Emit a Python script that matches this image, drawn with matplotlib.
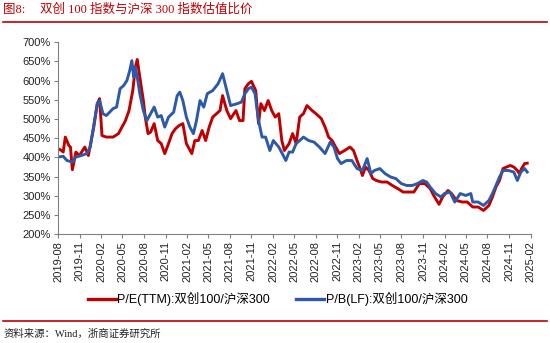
import matplotlib
matplotlib.use("Agg")
import matplotlib.pyplot as plt
from matplotlib.lines import Line2D
import pandas as pd

plt.rcParams['font.family'] = ['Liberation Sans', 'Noto Sans CJK SC']

# === Data (ratio in %) ===
pe_dates = [
    "2019-08-01", "2019-08-16", "2019-08-23", "2019-09-01", "2019-09-16", "2019-09-23",
    "2019-10-01", "2019-10-16", "2019-10-31", "2019-11-23", "2019-12-08", "2019-12-31",
    "2020-01-15", "2020-01-25", "2020-02-04", "2020-02-22", "2020-03-22", "2020-04-14",
    "2020-04-29", "2020-05-14", "2020-05-29", "2020-06-06", "2020-06-14", "2020-06-25",
    "2020-07-03", "2020-07-14", "2020-07-29", "2020-08-06", "2020-08-18", "2020-08-29",
    "2020-09-13", "2020-09-28", "2020-10-13", "2020-10-28", "2020-11-13", "2020-11-28",
    "2020-12-13", "2020-12-28", "2021-01-13", "2021-01-28", "2021-02-20", "2021-03-05",
    "2021-03-20", "2021-04-05", "2021-04-20", "2021-05-05", "2021-05-20", "2021-06-20",
    "2021-07-01", "2021-07-19", "2021-08-04", "2021-08-27", "2021-09-11", "2021-09-26",
    "2021-10-04", "2021-10-19", "2021-11-01", "2021-11-19", "2021-12-01", "2021-12-11",
    "2021-12-26", "2022-01-11", "2022-01-26", "2022-02-10", "2022-02-25", "2022-03-10",
    "2022-03-21", "2022-04-10", "2022-04-25", "2022-05-10", "2022-05-25", "2022-06-10",
    "2022-06-25", "2022-07-17", "2022-08-02", "2022-08-25", "2022-09-10", "2022-09-25",
    "2022-10-10", "2022-10-25", "2022-11-10", "2022-12-02", "2022-12-25", "2023-01-09",
    "2023-01-24", "2023-02-09", "2023-02-16", "2023-03-01", "2023-03-16", "2023-04-01",
    "2023-04-16", "2023-05-08", "2023-06-01", "2023-06-23", "2023-07-16", "2023-08-08",
    "2023-09-01", "2023-09-23", "2023-10-16", "2023-11-08", "2023-12-01", "2023-12-16",
    "2024-01-08", "2024-01-23", "2024-02-15", "2024-03-01", "2024-03-22", "2024-04-15",
    "2024-05-07", "2024-05-30", "2024-06-22", "2024-07-15", "2024-08-07", "2024-08-22",
    "2024-09-06", "2024-09-21", "2024-10-06", "2024-10-21", "2024-11-06", "2024-11-21",
    "2024-12-06", "2024-12-14", "2024-12-24", "2025-01-06", "2025-01-17",
]
pe_values = [
    423, 418, 414, 453, 431, 427,
    368, 414, 405, 427, 405, 479,
    540, 553, 457, 453, 453, 462,
    479, 496, 522, 548, 574, 635,
    655, 609, 548, 505, 462, 466,
    488, 444, 436, 410, 436, 462,
    475, 483, 488, 436, 410, 444,
    444, 470, 444, 479, 505, 522,
    561, 522, 501, 522, 496, 496,
    579, 592, 598, 574, 488, 540,
    522, 548, 522, 505, 514, 444,
    418, 436, 462, 436, 505, 514,
    535, 522, 514, 501, 479, 453,
    444, 427, 410, 418, 427, 418,
    392, 366, 353, 375, 366, 345,
    340, 336, 336, 327, 319, 310,
    310, 310, 332, 332, 319, 301,
    278, 297, 314, 306, 288, 284,
    284, 271, 271, 262, 275, 297,
    323, 340, 371, 375, 379, 375,
    366, 358, 371, 384, 385,
]

pb_dates = [
    "2019-08-01", "2019-08-23", "2019-09-08", "2019-10-01", "2019-10-16", "2019-11-08",
    "2019-12-01", "2019-12-16", "2019-12-31", "2020-01-15", "2020-01-25", "2020-02-08",
    "2020-02-22", "2020-03-08", "2020-03-22", "2020-04-06", "2020-04-21", "2020-05-06",
    "2020-05-20", "2020-06-01", "2020-06-10", "2020-06-18", "2020-06-25", "2020-07-03",
    "2020-07-14", "2020-07-29", "2020-08-13", "2020-08-29", "2020-09-13", "2020-09-28",
    "2020-10-13", "2020-10-28", "2020-11-13", "2020-12-05", "2020-12-20", "2020-12-31",
    "2021-01-13", "2021-01-28", "2021-02-12", "2021-02-27", "2021-03-12", "2021-03-27",
    "2021-04-12", "2021-04-27", "2021-05-20", "2021-06-12", "2021-07-01", "2021-07-19",
    "2021-08-04", "2021-08-27", "2021-09-19", "2021-10-04", "2021-10-19", "2021-11-01",
    "2021-11-16", "2021-12-01", "2021-12-16", "2021-12-31", "2022-01-18", "2022-02-02",
    "2022-02-25", "2022-03-12", "2022-03-27", "2022-04-10", "2022-04-25", "2022-05-10",
    "2022-05-25", "2022-06-10", "2022-07-02", "2022-07-25", "2022-08-17", "2022-09-10",
    "2022-10-02", "2022-10-18", "2022-11-02", "2022-11-17", "2022-12-10", "2023-01-02",
    "2023-01-24", "2023-02-16", "2023-03-08", "2023-03-24", "2023-04-08", "2023-05-01",
    "2023-05-23", "2023-06-16", "2023-07-08", "2023-07-31", "2023-08-23", "2023-09-16",
    "2023-10-08", "2023-10-31", "2023-11-16", "2023-12-01", "2023-12-24", "2024-01-16",
    "2024-01-31", "2024-02-23", "2024-03-15", "2024-04-07", "2024-04-30", "2024-05-22",
    "2024-05-30", "2024-06-22", "2024-07-15", "2024-08-07", "2024-08-22", "2024-09-06",
    "2024-09-21", "2024-10-06", "2024-10-29", "2024-11-21", "2024-12-06", "2024-12-21",
    "2025-01-06", "2025-01-17",
]
pb_values = [
    401, 403, 392, 388, 401, 405,
    410, 427, 483, 540, 548, 514,
    509, 518, 527, 531, 579, 587,
    600, 626, 652, 609, 635, 609,
    566, 522, 496, 514, 531, 505,
    509, 479, 505, 518, 561, 570,
    548, 505, 479, 462, 496, 548,
    531, 566, 574, 592, 618, 574,
    535, 539, 544, 566, 579, 583,
    566, 496, 453, 453, 418, 444,
    427, 410, 392, 414, 414, 436,
    444, 453, 444, 440, 427, 410,
    440, 427, 397, 384, 392, 392,
    371, 366, 397, 358, 366, 371,
    358, 349, 345, 332, 327, 327,
    332, 340, 336, 323, 306, 297,
    306, 310, 284, 306, 301, 306,
    284, 284, 275, 288, 306, 327,
    349, 366, 366, 362, 340, 362,
    371, 362,
]

x_ticks = pd.date_range("2019-08-01", "2025-02-01", freq="3MS")
y_ticks = list(range(200, 701, 50))

pe = pd.Series(pe_values, index=pd.to_datetime(pe_dates))
pb = pd.Series(pb_values, index=pd.to_datetime(pb_dates))

red = "#c00000"
blue = "#2e59a8"

# === Figure ===
fig = plt.figure(figsize=(5.5, 3.43), dpi=100)
ax = fig.add_axes([0.1055, 0.317, 0.8595, 0.56])

ax.plot(pe.index, pe.values, color=red, lw=2.1)
ax.plot(pb.index, pb.values, color=blue, lw=2.1)

ax.set_xlim(x_ticks[0], x_ticks[-1])
ax.set_ylim(200, 700)
ax.set_yticks(y_ticks)
ax.set_yticklabels([f"{v}%" for v in y_ticks], fontsize=8)
ax.set_xticks(x_ticks)
ax.set_xticklabels([d.strftime("%Y-%m") for d in x_ticks], rotation=90, fontsize=8)

for s in ["top", "right"]:
    ax.spines[s].set_visible(False)
for s in ["left", "bottom"]:
    ax.spines[s].set_color("#808080")
    ax.spines[s].set_linewidth(0.8)
ax.tick_params(axis="both", colors="#808080", labelcolor="#222222", length=3, width=0.8, pad=2)

# Legend
handles = [Line2D([0], [0], color=red, lw=2.4), Line2D([0], [0], color=blue, lw=2.4)]
labels = ["P/E(TTM):双创100/沪深300", "P/B(LF):双创100/沪深300"]
fig.legend(handles, labels, loc="center", bbox_to_anchor=(0.505, 0.128), ncol=2,
           frameon=False, fontsize=9, handlelength=2.2, handletextpad=0.15, columnspacing=2.1)

# Title, rules and source
fig.text(0.006, 0.972, "图8:", color=red, fontsize=9, va="center",
         family=["Liberation Serif", "Noto Sans CJK SC"])
fig.text(0.073, 0.972, "双创 100 指数与沪深 300 指数估值比价", color=red, fontsize=9, va="center",
         family=["Liberation Serif", "Noto Sans CJK SC"])
fig.add_artist(Line2D([0.006, 0.994], [0.937, 0.937], color=red, lw=1.2))
fig.add_artist(Line2D([0.006, 0.994], [0.065, 0.065], color=red, lw=1.2))
fig.text(0.006, 0.028, "资料来源：Wind，浙商证券研究所", color="#222222", fontsize=7.5, va="center",
         family=["Liberation Serif", "Noto Sans CJK SC"])

fig.savefig("out.png", dpi=100)
